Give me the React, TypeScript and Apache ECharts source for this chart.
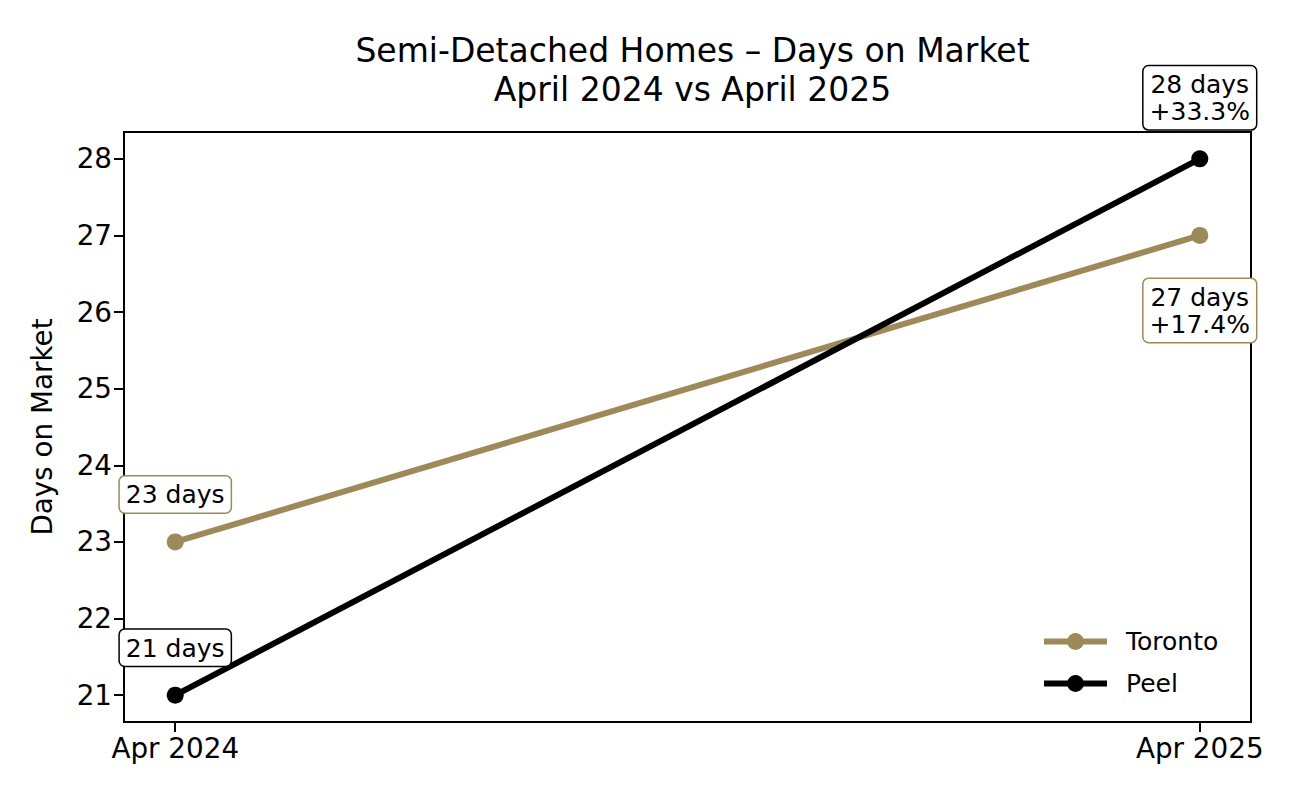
import React, { useEffect, useRef } from "react";
import * as echarts from "echarts";

const categories = ["Apr 2024", "Apr 2025"];
const seriesNames = ["Toronto", "Peel"];
const torontoDays = [23, 27];
const peelDays = [21, 28];
const yTicks = [21, 22, 23, 24, 25, 26, 27, 28];
const colors = ["#9e8a58", "#000000"];

const FONT = "DejaVu Sans";

function buildData(values: number[], color: string) {
  return values.map((v, i) => {
    const isLast = i === values.length - 1;
    const pct = i > 0 ? ((v - values[0]) / values[0]) * 100 : 0;
    const text = i === 0 ? `${v} days` : `${v} days\n+${pct.toFixed(1)}%`;
    // Toronto end label sits below its point; others above
    const below = isLast && color !== "#000000";
    return {
      value: [i, v],
      label: {
        show: true,
        position: below ? "bottom" : "top",
        distance: below ? 35 : 21,
        formatter: text,
        fontFamily: FONT,
        fontSize: 25,
        lineHeight: 27,
        color: "#000",
        backgroundColor: "#fff",
        borderColor: color,
        borderWidth: 1.5,
        borderRadius: 5,
        padding: [5, 6, 4, 6],
        align: "center",
      },
    };
  });
}

export default function App() {
  const ref = useRef<HTMLDivElement>(null);
  useEffect(() => {
    if (!ref.current) return;
    const chart = echarts.init(ref.current, null, { renderer: "svg" });
    const seriesValues = [torontoDays, peelDays];
    chart.setOption({
      animation: false,
      backgroundColor: "#fff",
      title: {
        text: "Semi-Detached Homes – Days on Market\nApril 2024 vs April 2025",
        left: 687.5,
        textAlign: "center",
        top: 26,
        textStyle: {
          fontFamily: FONT,
          fontSize: 33,
          fontWeight: "normal",
          lineHeight: 39,
          color: "#000",
        },
      },
      grid: {
        left: 124,
        right: 49,
        top: 132,
        bottom: 78,
        show: true,
        borderColor: "#000",
        borderWidth: 2,
        backgroundColor: "transparent",
      },
      legend: {
        orient: "vertical",
        left: 1041,
        top: 629,
        padding: 0,
        itemWidth: 63,
        itemHeight: 21,
        itemGap: 17,
        lineStyle: { width: 6 },
        textStyle: {
          fontFamily: FONT,
          fontSize: 25,
          color: "#000",
          padding: [0, 0, 0, 14],
        },
        data: seriesNames,
      },
      xAxis: {
        type: "value",
        min: -0.05,
        max: 1.05,
        splitLine: { show: false },
        axisLine: { show: true, onZero: false, lineStyle: { color: "#000", width: 2 } },
        axisTick: {
          show: true,
          length: 10,
          lineStyle: { color: "#000", width: 2 },
          customValues: categories.map((_, i) => i),
        },
        axisLabel: {
          customValues: categories.map((_, i) => i),
          formatter: (v: number) => categories[Math.round(v)] ?? "",
          fontFamily: FONT,
          fontSize: 27.8,
          color: "#000",
          margin: 12,
        },
      },
      yAxis: {
        type: "value",
        min: 20.65,
        max: 28.35,
        name: "Days on Market",
        nameLocation: "middle",
        nameRotate: 90,
        nameGap: 68,
        nameTextStyle: { fontFamily: FONT, fontSize: 27.8, color: "#000" },
        splitLine: { show: false },
        axisLine: { show: true, onZero: false, lineStyle: { color: "#000", width: 2 } },
        axisTick: {
          show: true,
          length: 10,
          lineStyle: { color: "#000", width: 2 },
          customValues: yTicks,
        },
        axisLabel: {
          customValues: yTicks,
          fontFamily: FONT,
          fontSize: 27.8,
          color: "#000",
          margin: 12,
        },
      },
      series: seriesNames.map((name, idx) => ({
        name,
        type: "line",
        data: buildData(seriesValues[idx], colors[idx]),
        color: colors[idx],
        symbol: "circle",
        symbolSize: 17,
        showAllSymbol: true,
        lineStyle: { color: colors[idx], width: 6 },
        itemStyle: { color: colors[idx] },
        z: 2 + idx,
        emphasis: { disabled: true },
      })),
    });
    return () => chart.dispose();
  }, []);
  return (
    <div
      ref={ref}
      style={{ position: "fixed", left: 0, top: 0, width: 1300, height: 800 }}
    />
  );
}
